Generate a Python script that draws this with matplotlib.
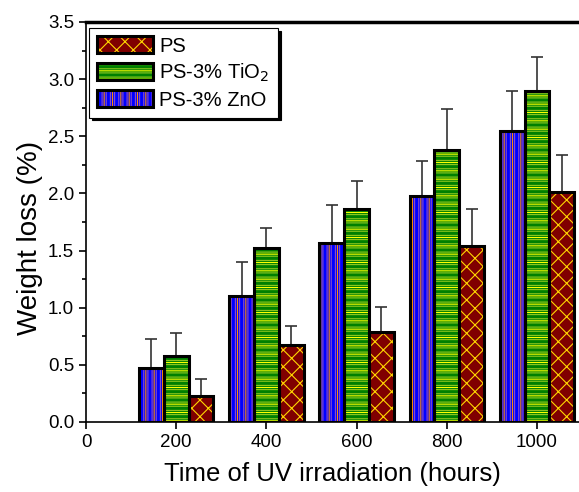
import numpy as np
import matplotlib.pyplot as plt
from matplotlib.patches import Patch

plt.rcParams['font.family'] = ['Liberation Sans', 'DejaVu Sans']
plt.rcParams['hatch.linewidth'] = 0.8

hours = [200, 400, 600, 800, 1000]
zno = [0.47, 1.10, 1.57, 1.98, 2.55]
zno_top = [0.73, 1.40, 1.90, 2.28, 2.90]
tio2 = [0.58, 1.52, 1.86, 2.38, 2.90]
tio2_top = [0.78, 1.70, 2.11, 2.74, 3.19]
ps = [0.23, 0.67, 0.79, 1.54, 2.01]
ps_top = [0.38, 0.84, 1.01, 1.86, 2.34]

x = np.array(hours)
w = 55

fig = plt.figure(figsize=(5.79, 4.92), dpi=100)
ax = fig.add_axes([86/579, 70/492, 1 - 86/579, 400/492])

# (values, tops, offset, face, [(hatch, color), ...])
series = [
    (zno, zno_top, -w, 'blue', [('||||', '#9050c0'), ('||', '#ff8c00')]),
    (tio2, tio2_top, 0, 'green', [('----', '#90c820'), ('--', '#ffff00')]),
    (ps, ps_top, w, '#800000', [('xx', '#ffd700')]),
]
handles = []
for vals, tops, off, face, hatches in series:
    vals = np.array(vals)
    err = np.array(tops) - vals
    ax.errorbar(x + off, vals, yerr=[np.zeros_like(err), err], fmt='none',
                ecolor='#333333', elinewidth=1.2, capsize=4, capthick=1.2, zorder=1)
    ax.bar(x + off, vals, w, color=face, linewidth=0, zorder=2)
    parts = [Patch(facecolor=face, linewidth=0)]
    for h, c in hatches:
        ax.bar(x + off, vals, w, fill=False, hatch=h, edgecolor=c, linewidth=0, zorder=3)
        parts.append(Patch(fill=False, hatch=h, edgecolor=c, linewidth=0))
    ax.bar(x + off, vals, w, fill=False, edgecolor='black', linewidth=2.2, zorder=4)
    parts.append(Patch(fill=False, edgecolor='black', linewidth=2.2))
    handles.append(tuple(parts))

ax.set_xlim(0, 1093)
ax.set_ylim(0, 3.5)
ax.set_xticks([0, 200, 400, 600, 800, 1000])
ax.set_yticks(np.arange(0, 3.51, 0.5))
ax.set_yticks(np.arange(0.25, 3.5, 0.5), minor=True)
ax.set_yticklabels(['%.1f' % v for v in np.arange(0, 3.51, 0.5)])
ax.tick_params(direction='out', labelsize=13.5, width=1.2, length=5)
ax.tick_params(which='minor', direction='out', width=1.2, length=3)
ax.spines['right'].set_visible(False)
ax.spines['top'].set_linewidth(2.5)
ax.spines['left'].set_linewidth(1.2)
ax.spines['bottom'].set_linewidth(1.2)

ax.set_xlabel('Time of UV irradiation (hours)', fontsize=18.5, labelpad=8)
ax.set_ylabel('Weight loss (%)', fontsize=20)
ax.yaxis.set_label_coords(-0.087, 0.46)

leg = ax.legend(handles[::-1],
                ['PS-3% ZnO', 'PS-3% TiO$_2$', 'PS'][::-1],
                loc='upper left', bbox_to_anchor=(0.006, 0.985), borderaxespad=0,
                fontsize=14.5, handlelength=2.8, handleheight=0.95,
                fancybox=False, shadow={'color': 'black', 'alpha': 1},
                edgecolor='black', framealpha=1,
                handletextpad=0.3, labelspacing=0.3, borderpad=0.4)
leg.get_frame().set_linewidth(0.8)

fig.savefig('out.png')
